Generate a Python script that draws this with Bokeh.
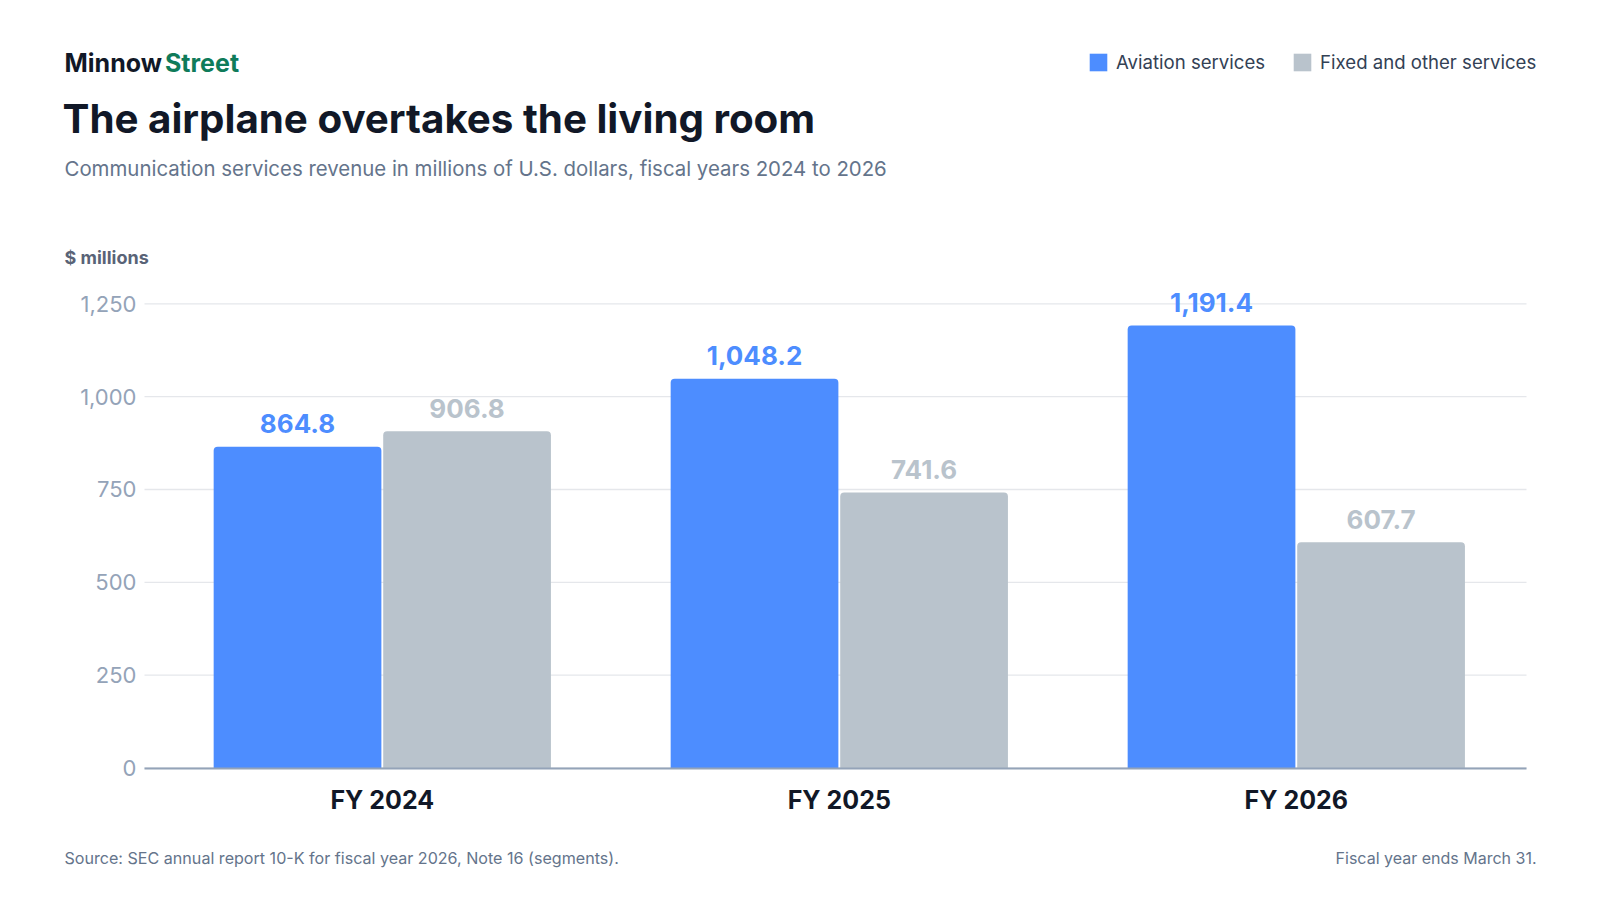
from bokeh.plotting import figure
from bokeh.models import (ColumnDataSource, Range1d, FixedTicker, Label, LabelSet,
                          Legend, LegendItem)
from bokeh.core.properties import value
from bokeh.embed import file_html
from bokeh.resources import INLINE

# ---- data ----
categories = ["FY 2024", "FY 2025", "FY 2026"]
aviation = [864.8, 1048.2, 1191.4]
fixed_other = [906.8, 741.6, 607.7]
series_names = ["Aviation services", "Fixed and other services"]
y_ticks = [0, 250, 500, 750, 1000, 1250]

# ---- style ----
FONT = "Inter"
BLUE = "#4d8dff"
GRAY = "#b9c3cc"
DARK = "#111827"
GREEN = "#0f7b5a"
MUTED = "#64748b"

W, H = 1584, 884
UX = 457.0            # px per category
X_ZERO = 381.8        # canvas x of first category
UY = 0.37136          # px per $ million
Y_ZERO = 767.5        # canvas y of value 0

X0 = -X_ZERO / UX
X1 = X0 + W / UX
Y0 = -(H - Y_ZERO) / UY
Y1 = Y_ZERO / UY

# extent of the plotting area (data units)
XL = (144 - X_ZERO) / UX
XR = (1526 - X_ZERO) / UX

p = figure(width=W, height=H, output_backend="svg", toolbar_location=None,
           x_range=Range1d(X0, X1), y_range=Range1d(Y0, Y1),
           min_border=0, min_border_left=0, min_border_right=0,
           min_border_top=0, min_border_bottom=0)
p.outline_line_color = None
p.background_fill_color = "white"
p.border_fill_color = "white"
p.xgrid.grid_line_color = None
p.ygrid.grid_line_color = None


def xd(cx):
    return X0 + cx / UX


def yd(cy):
    return (Y_ZERO - cy) / UY


# gridlines over the plotting area
p.segment(x0=[XL] * len(y_ticks), x1=[XR] * len(y_ticks), y0=y_ticks, y1=y_ticks,
          line_color="#e5e7eb", line_width=1.3)

xs = list(range(len(categories)))
off, bw = 0.1855, 0.367
src = ColumnDataSource(dict(
    xa=[x - off for x in xs],
    xf=[x + off for x in xs],
    av=aviation,
    fo=fixed_other,
    av_t=[f"{v:,.1f}" for v in aviation],
    fo_t=[f"{v:,.1f}" for v in fixed_other],
))

r_av = p.vbar(x="xa", top="av", width=bw, bottom=0, source=src, fill_color=BLUE,
              line_color=None, border_radius=(4, 4, 0, 0))
r_fo = p.vbar(x="xf", top="fo", width=bw, bottom=0, source=src, fill_color=GRAY,
              line_color=None, border_radius=(4, 4, 0, 0))

for col, tcol, xc, color in [("av", "av_t", "xa", BLUE), ("fo", "fo_t", "xf", GRAY)]:
    p.add_layout(LabelSet(x=xc, y=col, text=tcol, source=src, y_offset=23,
                          text_align="center", text_baseline="middle",
                          text_font=value(FONT), text_font_style="bold",
                          text_font_size="26px", text_color=color))

# axes at fixed locations inside the canvas
xax = p.xaxis[0]
xax.fixed_location = 0
xax.bounds = (XL, XR)
xax.ticker = FixedTicker(ticks=xs)
xax.major_label_overrides = {i: c for i, c in enumerate(categories)}
xax.major_label_text_font = FONT
xax.major_label_text_font_style = "bold"
xax.major_label_text_font_size = "25px"
xax.major_label_text_color = DARK
xax.major_label_standoff = 11
xax.axis_line_color = "#94a3b8"
xax.axis_line_width = 2
xax.major_tick_line_color = None
xax.minor_tick_line_color = None

yax = p.yaxis[0]
yax.fixed_location = XL
yax.bounds = (0, 1250)
yax.ticker = FixedTicker(ticks=y_ticks)
yax.major_label_overrides = {t: f"{t:,}" for t in y_ticks}
yax.major_label_text_font = FONT
yax.major_label_text_font_size = "22px"
yax.major_label_text_color = "#94a3b8"
yax.major_label_standoff = 2
yax.axis_line_color = None
yax.major_tick_line_color = None
yax.minor_tick_line_color = None


# header / footer texts
def lab(text, cx, cy, size, color, bold=False, align="left"):
    p.add_layout(Label(x=xd(cx), y=yd(cy), text=text, text_font=FONT,
                       text_font_size=size, text_color=color,
                       text_font_style="bold" if bold else "normal",
                       text_align=align, text_baseline="middle"))


lab("Minnow", 64, 62, "25px", DARK, bold=True)
lab("Street", 164.5, 62, "25px", GREEN, bold=True)
lab("The airplane overtakes the living room", 62, 118, "40.3px", DARK, bold=True)
lab("Communication services revenue in millions of U.S. dollars, fiscal years 2024 to 2026",
    64, 168, "20.4px", MUTED)
lab("$ millions", 64, 257, "18px", "#596377", bold=True)
lab("Source: SEC annual report 10-K for fiscal year 2026, Note 16 (segments).",
    64, 857, "16.1px", MUTED)
lab("Fiscal year ends March 31.", 1536, 857, "16px", MUTED, align="right")

legend = Legend(items=[LegendItem(label=series_names[0], renderers=[r_av]),
                       LegendItem(label=series_names[1], renderers=[r_fo])],
                orientation="horizontal", location=(1087, H - 73),
                glyph_width=22, glyph_height=22, label_standoff=7, spacing=26,
                padding=0, margin=0, border_line_color=None,
                background_fill_alpha=0,
                label_text_font=FONT, label_text_font_size="18.6px",
                label_text_color="#334155", label_height=22)
p.add_layout(legend, "center")

open("out.html", "w").write(file_html(p, INLINE))
